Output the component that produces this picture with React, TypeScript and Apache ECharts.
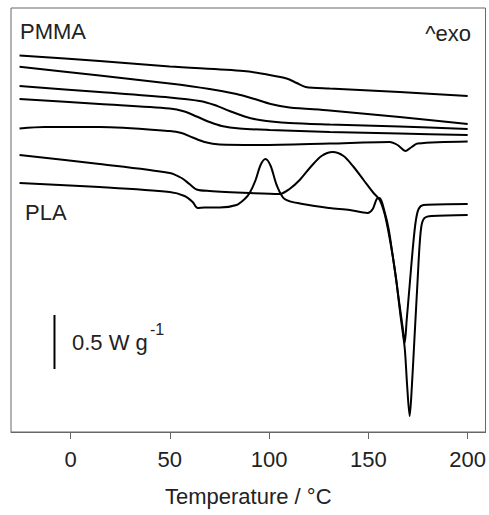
import React, { useEffect, useRef } from "react";
import * as echarts from "echarts";

// Temperature (°C) vs heat flow (offset units, 108 units ≈ 1 W/g)
const xTicks = [0, 50, 100, 150, 200];

const pmma1: [number, number][] = [
  [-25.7, 376.5], [14.6, 371], [49.9, 365.5], [87.2, 361], [100.3, 357], [108.8, 353.5],
  [113.9, 349], [118.4, 345], [130.5, 343.5], [165.7, 340], [200, 336],
];
const pmma2: [number, number][] = [
  [-25.7, 365.3], [14.6, 356.5], [49.9, 348.5], [70.0, 343], [83.6, 338], [92.7, 333],
  [100.8, 328], [110.3, 324.5], [130.5, 321.5], [165.7, 315], [200, 308],
];
const pmma3: [number, number][] = [
  [-25.7, 346], [14.6, 340], [49.9, 334.5], [65.0, 331], [72.5, 327], [80.1, 321],
  [87.7, 315.5], [95.2, 312], [110.3, 309], [130.5, 307.5], [165.7, 305.5], [200, 303],
];
const pmma4: [number, number][] = [
  [-25.7, 333], [14.6, 328], [49.9, 323.5], [57.4, 320.5], [63.5, 315.5], [70.0, 310],
  [76.1, 306], [85.1, 303.5], [100.3, 302], [130.5, 300], [165.7, 298.5], [200, 297],
];
const pmma5: [number, number][] = [
  [-25.7, 303.5], [-13.1, 305], [14.6, 305], [49.9, 301], [55.9, 299], [61.5, 294.5],
  [67.5, 290], [75.1, 287.5], [95.2, 287], [130.5, 288.5], [160.7, 290], [164.7, 287],
  [168.8, 281], [171.8, 285], [174.8, 288.5], [200, 290.5],
];
const plaA: [number, number][] = [
  [-25.7, 277], [14.6, 268], [49.9, 259], [55.9, 254], [59.9, 248], [63.5, 242.5],
  [70.0, 241], [90.2, 239], [105.3, 238], [110.3, 243], [115.4, 252], [120.9, 265],
  [126.4, 276], [132.0, 280], [137.5, 276], [142.6, 265], [147.6, 252], [152.6, 239],
  [155.7, 232], [158.2, 218], [160.7, 194], [163.2, 164], [165.7, 127], [167.3, 104],
  [168.3, 89], [169.3, 112], [170.8, 147], [172.3, 182], [173.8, 210], [175.3, 223],
  [177.8, 227], [200, 228],
];
const plaB: [number, number][] = [
  [-25.7, 249], [14.6, 245], [49.9, 240], [57.4, 236], [61.5, 230], [64.0, 224],
  [67.5, 224.5], [75.1, 224.5], [83.6, 227], [87.7, 233], [90.2, 239], [93.2, 252],
  [95.7, 267], [98.2, 273], [100.8, 266], [103.8, 247], [107.8, 233], [116.9, 228],
  [130.5, 224], [140.6, 222], [149.6, 219], [152.2, 223], [154.2, 233], [155.7, 234],
  [158.2, 220], [160.2, 203], [162.2, 177], [164.2, 149], [166.2, 116], [168.3, 84],
  [169.5, 47], [170.8, 16], [171.8, 42], [173.3, 97], [174.8, 152], [175.8, 187],
  [176.8, 207], [178.3, 214], [181.9, 216], [200, 217],
];
const scaleBar: [number, number][] = [[-8.1, 63], [-8.1, 117]];

const curves = [pmma1, pmma2, pmma3, pmma4, pmma5, plaA, plaB];

const FAMILY = '"Liberation Sans", Arial, sans-serif';
const FONT = `22px ${FAMILY}`;

export default function App() {
  const ref = useRef<HTMLDivElement>(null);
  useEffect(() => {
    if (!ref.current) return;
    const chart = echarts.init(ref.current, null, { renderer: "svg" });
    chart.setOption({
      animation: false,
      backgroundColor: "#ffffff",
      grid: {
        left: 11,
        right: 3,
        top: 8,
        bottom: 83,
        show: true,
        borderColor: "#666",
        borderWidth: 1,
        backgroundColor: "transparent",
      },
      xAxis: {
        type: "value",
        min: -30,
        max: 209,
        name: "Temperature / °C",
        nameLocation: "middle",
        nameGap: 53,
        nameTextStyle: { fontSize: 22, color: "#222", fontFamily: FAMILY },
        axisLine: { show: true, lineStyle: { color: "#666", width: 1 } },
        axisTick: { show: true, length: 7, lineStyle: { color: "#666" }, customValues: xTicks },
        axisLabel: {
          customValues: xTicks,
          margin: 16,
          fontSize: 22,
          color: "#222",
          fontFamily: FAMILY,
        },
        splitLine: { show: false },
      },
      yAxis: {
        type: "value",
        min: 0,
        max: 424,
        show: false,
        splitLine: { show: false },
      },
      series: [
        ...curves.map((c) => ({
          type: "line",
          data: c,
          symbol: "none",
          smooth: 0.3,
          lineStyle: { color: "#000", width: 2 },
        })),
        {
          type: "line",
          data: scaleBar,
          symbol: "none",
          lineStyle: { color: "#000", width: 2 },
        },
      ],
      graphic: [
        { type: "text", style: { text: "PMMA", x: 20, y: 31, font: FONT, fill: "#222", align: "left", verticalAlign: "middle" } },
        { type: "text", style: { text: "^exo", x: 471, y: 33, font: FONT, fill: "#222", align: "right", verticalAlign: "middle" } },
        { type: "text", style: { text: "PLA", x: 25, y: 212, font: FONT, fill: "#222", align: "left", verticalAlign: "middle" } },
        { type: "text", style: { text: "0.5 W g", x: 72, y: 342, font: FONT, fill: "#222", align: "left", verticalAlign: "middle" } },
        { type: "text", style: { text: "-1", x: 150, y: 329, font: `16px ${FAMILY}`, fill: "#222", align: "left", verticalAlign: "middle" } },
      ],
    });
    return () => chart.dispose();
  }, []);
  return (
    <div
      ref={ref}
      style={{ position: "fixed", left: 0, top: 0, width: 489, height: 515, background: "#fff" }}
    />
  );
}
